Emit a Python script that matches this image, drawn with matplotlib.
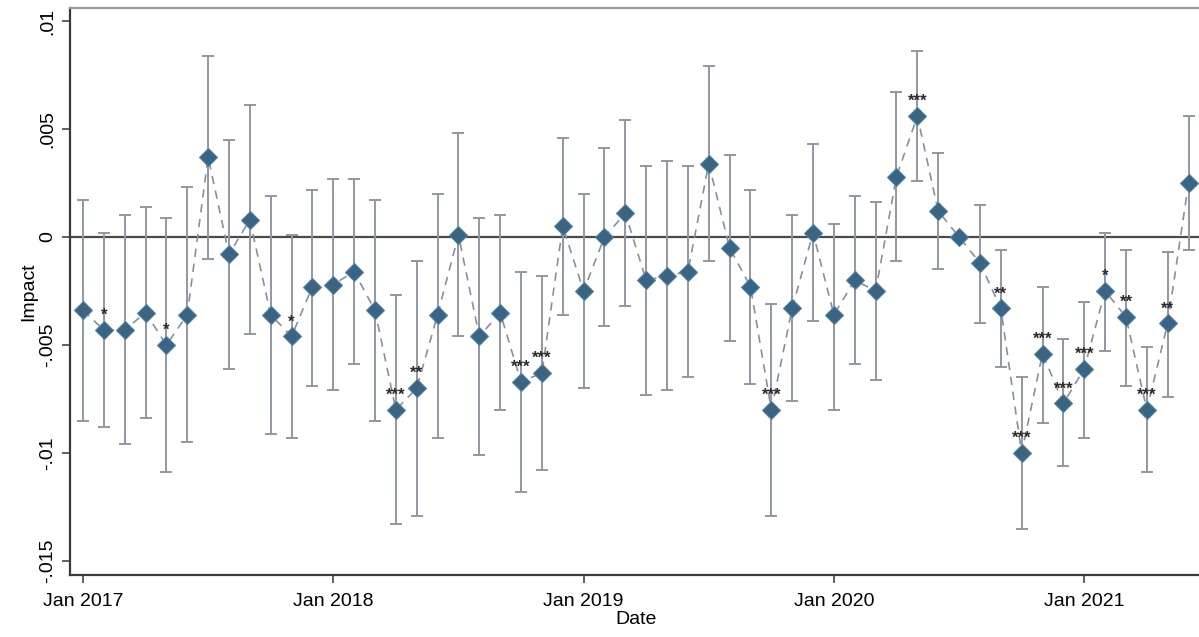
import matplotlib
matplotlib.use("Agg")
import matplotlib.pyplot as plt
import numpy as np
from matplotlib.ticker import FixedLocator, FuncFormatter

# monthly event-study estimates, Jan 2017 .. Jun 2021 (Jul 2020 is the base month)
coef = [
    -0.0034, -0.0043, -0.0043, -0.0035, -0.0050, -0.0036, 0.0037, -0.0008, 0.0008, -0.0036, -0.0046, -0.0023,
    -0.0022, -0.0016, -0.0034, -0.0080, -0.0070, -0.0036, 0.0001, -0.0046, -0.0035, -0.0067, -0.0063, 0.0005,
    -0.0025, 0.0000, 0.0011, -0.0020, -0.0018, -0.0016, 0.0034, -0.0005, -0.0023, -0.0080, -0.0033, 0.0002,
    -0.0036, -0.0020, -0.0025, 0.0028, 0.0056, 0.0012, 0.0000, -0.0012, -0.0033, -0.0100, -0.0054, -0.0077,
    -0.0061, -0.0025, -0.0037, -0.0080, -0.0040, 0.0025,
]
ci_hi = [
    0.0017, 0.0002, 0.0010, 0.0014, 0.0009, 0.0023, 0.0084, 0.0045, 0.0061, 0.0019, 0.0001, 0.0022,
    0.0027, 0.0027, 0.0017, -0.0027, -0.0011, 0.0020, 0.0048, 0.0009, 0.0010, -0.0016, -0.0018, 0.0046,
    0.0020, 0.0041, 0.0054, 0.0033, 0.0035, 0.0033, 0.0079, 0.0038, 0.0022, -0.0031, 0.0010, 0.0043,
    0.0006, 0.0019, 0.0016, 0.0067, 0.0086, 0.0039, np.nan, 0.0015, -0.0006, -0.0065, -0.0023, -0.0047,
    -0.0030, 0.0002, -0.0006, -0.0051, -0.0007, 0.0056,
]
ci_lo = [
    -0.0085, -0.0088, -0.0096, -0.0084, -0.0109, -0.0095, -0.0010, -0.0061, -0.0045, -0.0091, -0.0093, -0.0069,
    -0.0071, -0.0059, -0.0085, -0.0133, -0.0129, -0.0093, -0.0046, -0.0101, -0.0080, -0.0118, -0.0108, -0.0036,
    -0.0070, -0.0041, -0.0032, -0.0073, -0.0071, -0.0065, -0.0011, -0.0048, -0.0068, -0.0129, -0.0076, -0.0039,
    -0.0080, -0.0059, -0.0066, -0.0011, 0.0026, -0.0015, np.nan, -0.0040, -0.0060, -0.0135, -0.0086, -0.0106,
    -0.0093, -0.0053, -0.0069, -0.0109, -0.0074, -0.0006,
]
stars = [
    "", "*", "", "", "*", "", "", "", "", "", "*", "",
    "", "", "", "***", "**", "", "", "", "", "***", "***", "",
    "", "", "", "", "", "", "", "", "", "***", "", "",
    "", "", "", "", "***", "", "", "", "**", "***", "***", "***",
    "***", "*", "**", "***", "**", "",
]
tick_months = [0, 12, 24, 36, 48]
tick_labels = ["Jan 2017", "Jan 2018", "Jan 2019", "Jan 2020", "Jan 2021"]
y_ticks = [0.01, 0.005, 0.0, -0.005, -0.01, -0.015]

plt.rcParams["font.family"] = ["Liberation Sans", "DejaVu Sans"]

months = np.arange(len(coef))
coef = np.array(coef)
ci_hi = np.array(ci_hi)
ci_lo = np.array(ci_lo)

fig = plt.figure(figsize=(11.99, 6.37), dpi=100)
ax = fig.add_axes([0.0584, 0.0973, 0.944, 0.890])

ax.axhline(0, color="#4a4a4a", linewidth=1.6, zorder=1)

has_ci = ~np.isnan(ci_hi)
ax.errorbar(
    months[has_ci], coef[has_ci],
    yerr=[coef[has_ci] - ci_lo[has_ci], ci_hi[has_ci] - coef[has_ci]],
    fmt="none", ecolor="#8e98a3", elinewidth=1.4, capsize=4.5, capthick=1.4, zorder=2,
)
ax.plot(months, coef, linestyle=(0, (5, 4)), color="#8a9098", linewidth=1.2, zorder=3)
ax.plot(months, coef, linestyle="none", marker="D", markersize=9,
        markerfacecolor="#3a6484", markeredgecolor="#56809f", markeredgewidth=0.8, zorder=4)

# significance stars above each estimate
for x, y, s in zip(months, coef, stars):
    if s:
        ax.annotate(s, (x, y), xytext=(0, 5), textcoords="offset points",
                    ha="center", va="bottom", fontsize=12, fontweight="bold",
                    color="#2a2a2a", zorder=5)

ax.set_xlim(-0.62, 53.64)
ax.set_ylim(-0.01565, 0.0106)

ax.xaxis.set_major_locator(FixedLocator(tick_months))
ax.set_xticklabels(tick_labels)
ax.yaxis.set_major_locator(FixedLocator(y_ticks))


def stata_fmt(v, pos):
    if abs(v) < 1e-12:
        return "0"
    s = f"{v:g}"
    return s.replace("0.", ".")


ax.yaxis.set_major_formatter(FuncFormatter(stata_fmt))
ax.tick_params(axis="x", direction="out", length=6, width=1.2, color="#444444",
               labelsize=14, pad=7)
ax.tick_params(axis="y", direction="out", length=6, width=1.2, color="#444444",
               labelsize=14, pad=4)
for lab in ax.get_yticklabels():
    lab.set_rotation(90)
    lab.set_va("center")

for side in ("left", "bottom"):
    ax.spines[side].set_color("#3a3a3a")
    ax.spines[side].set_linewidth(1.6)
ax.spines["top"].set_color("#9a9a9a")
ax.spines["top"].set_linewidth(1.6)
ax.spines["right"].set_visible(False)

ax.set_xlabel("Date", fontsize=14, labelpad=1)
ax.set_ylabel("Impact", fontsize=14, labelpad=1)

fig.savefig("out.png", dpi=100)
